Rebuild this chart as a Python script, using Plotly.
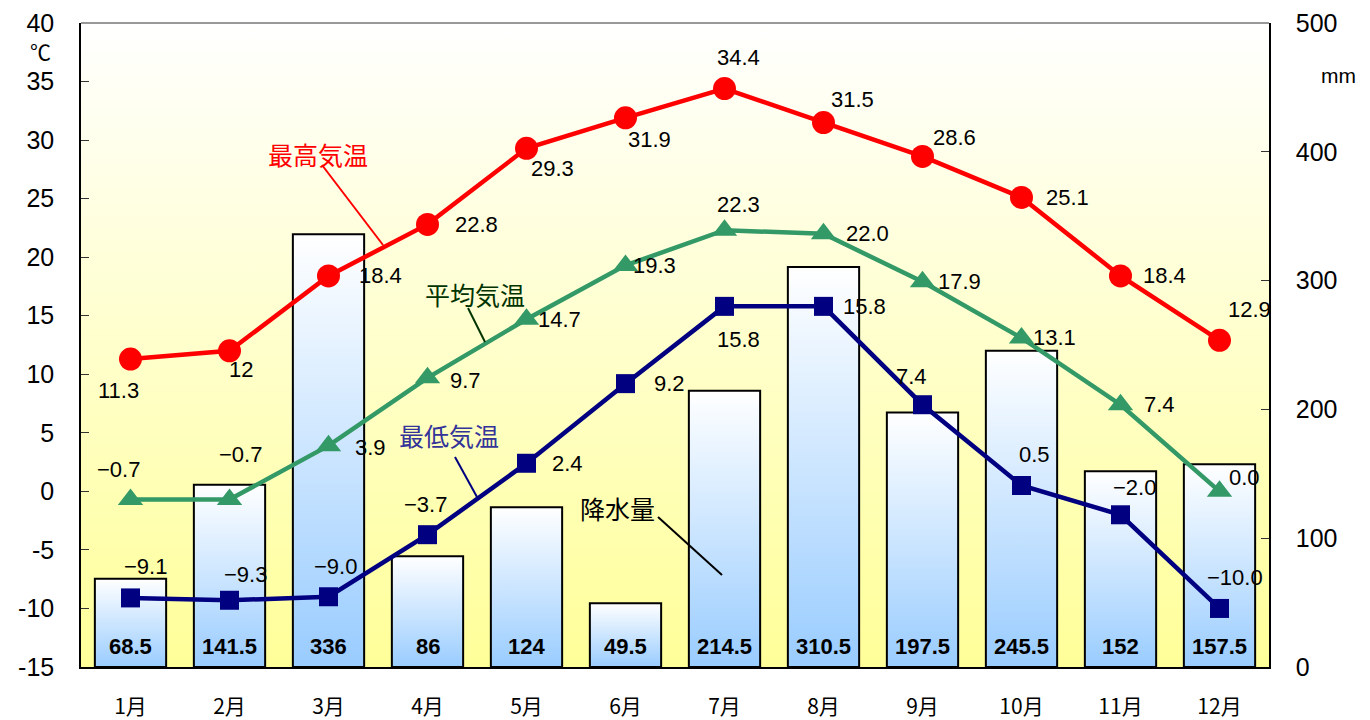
import plotly.graph_objects as go

months = ["1月", "2月", "3月", "4月", "5月", "6月", "7月", "8月", "9月", "10月", "11月", "12月"]
precip = [68.5, 141.5, 336, 86, 124, 49.5, 214.5, 310.5, 197.5, 245.5, 152, 157.5]
t_max = [11.3, 12, 18.4, 22.8, 29.3, 31.9, 34.4, 31.5, 28.6, 25.1, 18.4, 12.9]
t_avg = [-0.7, -0.7, 3.9, 9.7, 14.7, 19.3, 22.3, 22.0, 17.9, 13.1, 7.4, 0.0]
t_min = [-9.1, -9.3, -9.0, -3.7, 2.4, 9.2, 15.8, 15.8, 7.4, 0.5, -2.0, -10.0]
temp_ticks = list(range(-15, 41, 5))
precip_ticks = list(range(0, 501, 100))

# label offsets (pixels) per point — styling only
off_max = [(-12, -31), (11, -19), (52, 0), (49, 0), (26, -20), (24, -22), (14, 31), (29, 23), (32, 19), (46, 0), (44, 0), (30, 31)]
off_avg = [(-12, 30), (11, 45), (42, -2), (38, -3), (33, 0), (29, 0), (14, 26), (44, 0), (37, 0), (33, 0), (39, 0), (25, 14)]
off_min = [(15, 31), (16, 26), (7, 30), (-2, 30), (41, 0), (44, 0), (14, -33), (41, 0), (-11, 28), (13, 31), (14, 27), (15, 31)]

# page body has an 8px margin in the browser
PAD = 8
W, H = 1370 - PAD, 720 - PAD
L, R, T, B = 81, 1269, 23, 667
def px(x):
    return (x - L) / (R - L)
def py(y):
    return (B - y) / (B - T)

NUMFONT = "Liberation Sans, Arial, sans-serif"
JPFONT = "Noto Sans CJK JP, sans-serif"

fig = go.Figure()
n = len(months)
xs = list(range(n))

# background gradient
fig.add_trace(go.Scatter(
    x=[-0.5, 11.5, 11.5, -0.5, -0.5], y=[0, 0, 500, 500, 0], yaxis="y",
    mode="lines", line=dict(width=0), fill="toself",
    fillgradient=dict(type="vertical", start=0, stop=500,
                      colorscale=[[0, "#FFFF99"], [1, "#FFFFFF"]]),
    hoverinfo="skip", showlegend=False))

bw = 0.36
for i, v in enumerate(precip):
    fig.add_trace(go.Scatter(
        x=[i - bw, i + bw, i + bw, i - bw, i - bw], y=[0, 0, v, v, 0], yaxis="y",
        mode="lines", line=dict(color="black", width=2), fill="toself",
        fillgradient=dict(type="vertical", start=0, stop=v,
                          colorscale=[[0, "#99CCFF"], [1, "#FFFFFF"]]),
        hoverinfo="skip", showlegend=False))

fig.add_trace(go.Scatter(x=xs, y=t_avg, yaxis="y2", mode="lines+markers",
                         line=dict(color="#339966", width=4.5),
                         marker=dict(symbol="triangle-up", size=22, color="#339966"),
                         showlegend=False))
fig.add_trace(go.Scatter(x=xs, y=t_min, yaxis="y2", mode="lines+markers",
                         line=dict(color="#000080", width=4.5),
                         marker=dict(symbol="square", size=19, color="#000080"),
                         showlegend=False))
fig.add_trace(go.Scatter(x=xs, y=t_max, yaxis="y2", mode="lines+markers",
                         line=dict(color="#FF0000", width=4.5),
                         marker=dict(symbol="circle", size=23, color="#FF0000"),
                         showlegend=False))

def fmt(v, general=False):
    s = f"{v:g}" if general else f"{v:.1f}"
    return s.replace("-", "\u2212")

ann = []
for vals, offs, gen in [(t_max, off_max, True), (t_avg, off_avg, False), (t_min, off_min, False)]:
    for i, v in enumerate(vals):
        ann.append(dict(x=i, y=v, xref="x", yref="y2", text=fmt(v, gen), showarrow=False,
                        xanchor="center", yanchor="middle",
                        xshift=offs[i][0], yshift=offs[i][1],
                        font=dict(family=NUMFONT, size=22, color="black")))
for i, v in enumerate(precip):
    ann.append(dict(x=i, y=py(646), xref="x", yref="paper", text=f"<b>{v:g}</b>", showarrow=False,
                    xanchor="center", yanchor="middle",
                    font=dict(family=NUMFONT, size=22, color="black")))

series_labels = [("最高気温", 318, 154, "#FF0000"), ("平均気温", 475, 294, "#003300"),
                 ("最低気温", 449, 435, "#333399"), ("降水量", 617, 508, "#000000")]
for t, x, y, c in series_labels:
    ann.append(dict(x=px(x), y=py(y), xref="paper", yref="paper", text=t, showarrow=False,
                    xanchor="center", yanchor="middle",
                    font=dict(family=JPFONT, size=25, color=c)))
ann.append(dict(x=px(40), y=py(51), xref="paper", yref="paper", text="℃", showarrow=False,
                xanchor="center", yanchor="middle",
                font=dict(family=JPFONT, size=21, color="black")))
ann.append(dict(x=px(1338), y=py(75), xref="paper", yref="paper", text="mm", showarrow=False,
                xanchor="center", yanchor="middle",
                font=dict(family=NUMFONT, size=21, color="black")))

leaders = [((322, 165), (383, 245), "#FF0000"), ((468, 308), (485, 342), "#003300"),
           ((455, 457), (477, 497), "#000080"), ((658, 517), (722, 575), "#000000")]
shapes = []
for (x0, y0), (x1, y1), c in leaders:
    shapes.append(dict(type="line", xref="paper", yref="paper", x0=px(x0), y0=py(y0),
                       x1=px(x1), y1=py(y1), line=dict(color=c, width=2)))
shapes.append(dict(type="line", xref="paper", yref="paper", x0=0, y0=1, x1=1, y1=1,
                   line=dict(color="#999999", width=2)))

fig.update_layout(
    width=W, height=H,
    margin=dict(l=L - PAD, r=1370 - R, t=T - PAD, b=720 - B, autoexpand=False),
    paper_bgcolor="white", plot_bgcolor="white",
    showlegend=False,
    xaxis=dict(range=[-0.5, 11.5], tickvals=xs, ticktext=months, showgrid=False, zeroline=False,
               showline=True, linecolor="black", linewidth=2, ticks="",
               tickfont=dict(family=JPFONT, size=21, color="black"), ticklabelstandoff=20),
    yaxis=dict(range=[0, 500], side="right", tickvals=precip_ticks, showgrid=False, zeroline=False,
               showline=True, linecolor="black", linewidth=1.5, ticks="inside", ticklen=8,
               tickcolor="#333333", tickfont=dict(family=NUMFONT, size=25, color="black"),
               ticklabelstandoff=20),
    yaxis2=dict(range=[-15, 40], side="left", overlaying="y", tickvals=temp_ticks,
                ticktext=[str(t) for t in temp_ticks], showgrid=False, zeroline=False,
                showline=True, linecolor="black", linewidth=1.5, ticks="inside", ticklen=8,
                tickcolor="#333333", tickfont=dict(family=NUMFONT, size=25, color="black"),
                ticklabelstandoff=20),
    annotations=ann, shapes=shapes,
)

fig.write_html("out.html")
